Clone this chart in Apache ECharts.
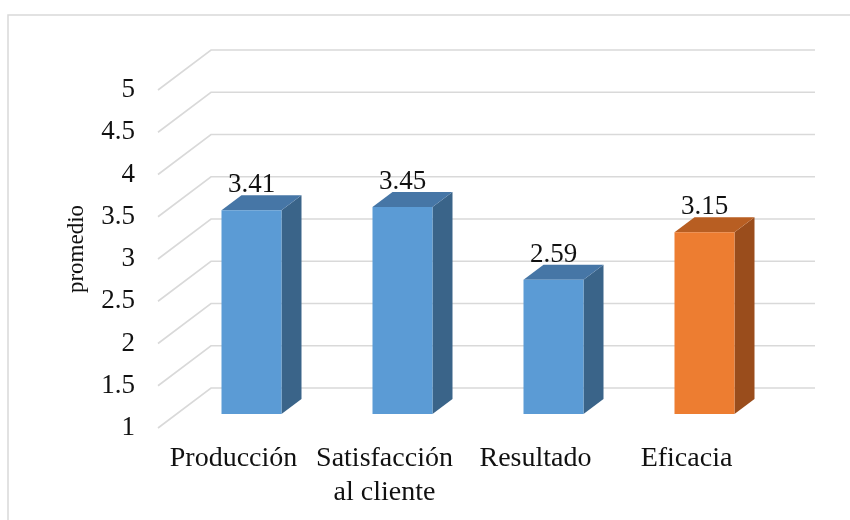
<!DOCTYPE html>
<html>
<head>
<meta charset="utf-8">
<script src="https://cdn.jsdelivr.net/npm/echarts@6/dist/echarts.min.js"></script>
<style>
    html, body {margin: 0; padding: 0; background: #fff;}
    #main {width: 850px; height: 520px;}
</style>
</head>
<body>
<div id="main"></div>
<script>
    var categories = ['Producción', 'Satisfacción\nal cliente', 'Resultado', 'Eficacia'];
    var values = [3.41, 3.45, 2.59, 3.15];
    var yTicks = [1, 1.5, 2, 2.5, 3, 3.5, 4, 4.5, 5];

    // perspective offsets (px)
    var backDx = 53, backDy = -40;      // floor depth: front edge -> back wall
    var faceDx = 18, faceDy = -14;      // bar front face sits a bit behind front edge
    var depthDx = 20, depthDy = -15;    // bar thickness
    var barWidth = 60;
    var fontName = 'Liberation Serif';

    var faceColors = ['#5b9bd5', '#5b9bd5', '#5b9bd5', '#ed7d31'];
    var topColors = ['#4676a6', '#4676a6', '#4676a6', '#b85e22'];
    var sideColors = ['#3a6489', '#3a6489', '#3a6489', '#9a4d1c'];

    (function (charts) {
        charts.setOption({
            animation: false,
            graphic: [{
                type: 'rect', silent: true, z: -10,
                shape: {x: 8, y: 15, width: 900, height: 600},
                style: {fill: 'none', stroke: '#d9d9d9', lineWidth: 1.5}
            }],
            grid: {left: 158, right: 88, top: 90, bottom: 92},
            xAxis: {
                type: 'category', data: categories,
                axisLine: {show: false}, axisTick: {show: false},
                axisLabel: {interval: 0, margin: 14, fontSize: 28, lineHeight: 34, color: '#111', fontFamily: fontName}
            },
            yAxis: {
                type: 'value', min: 1, max: 5, interval: 0.5,
                name: 'promedio', nameLocation: 'middle', nameRotate: 90, nameGap: 70,
                nameTextStyle: {fontSize: 23, color: '#111', fontFamily: fontName, padding: [0, 0, 0, 20]},
                splitLine: {show: false}, axisLine: {show: false}, axisTick: {show: false},
                axisLabel: {margin: 23, fontSize: 27, color: '#111', fontFamily: fontName}
            },
            series: [
                {
                    // gridlines drawn on floor edge + back wall
                    type: 'custom', z: 1, silent: true,
                    data: yTicks.map(function (v) { return [0, v]; }),
                    renderItem: function (params, api) {
                        var cs = params.coordSys;
                        var y = api.coord([0, api.value(1)])[1];
                        return {
                            type: 'polyline',
                            shape: {points: [[cs.x, y], [cs.x + backDx, y + backDy], [cs.x + cs.width + backDx, y + backDy]]},
                            style: {fill: null, stroke: '#d9d9d9', lineWidth: 1.6}
                        };
                    }
                },
                {
                    type: 'custom', z: 2,
                    data: values.map(function (v, i) { return [i, v]; }),
                    renderItem: function (params, api) {
                        var i = api.value(0);
                        var base = api.coord([i, 1]);
                        var top = api.coord([i, api.value(1)]);
                        var cx = base[0] + faceDx;
                        var x0 = cx - barWidth / 2, x1 = cx + barWidth / 2;
                        var yb = base[1] + faceDy, yt = top[1] + faceDy;
                        return {
                            type: 'group',
                            children: [
                                {
                                    type: 'polygon',
                                    shape: {points: [[x1, yt], [x1 + depthDx, yt + depthDy], [x1 + depthDx, yb + depthDy], [x1, yb]]},
                                    style: {fill: sideColors[i]}
                                },
                                {
                                    type: 'polygon',
                                    shape: {points: [[x0, yt], [x0 + depthDx, yt + depthDy], [x1 + depthDx, yt + depthDy], [x1, yt]]},
                                    style: {fill: topColors[i]}
                                },
                                {
                                    type: 'rect',
                                    shape: {x: x0, y: yt, width: barWidth, height: yb - yt},
                                    style: {fill: faceColors[i]}
                                },
                                {
                                    type: 'text',
                                    style: {
                                        x: cx, y: yt - 25, text: api.value(1).toFixed(2),
                                        align: 'center', verticalAlign: 'middle',
                                        fontSize: 27, fontFamily: fontName, fill: '#111'
                                    }
                                }
                            ]
                        };
                    }
                }
            ]
        });
    })(echarts.init(document.getElementById('main')));
</script>
</body>
</html>
